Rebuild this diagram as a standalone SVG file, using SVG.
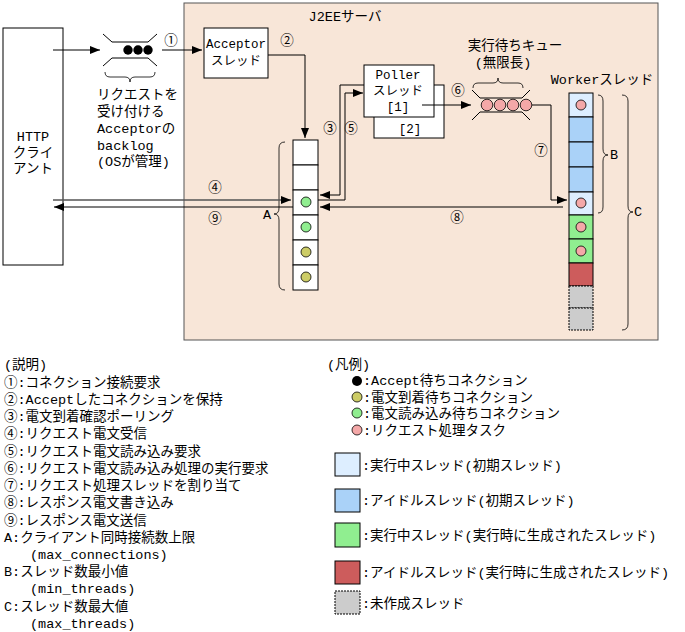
<svg xmlns="http://www.w3.org/2000/svg" width="685" height="632" viewBox="0 0 685 632">
<style>
text{font-family:"Liberation Mono","Noto Sans CJK JP",monospace;font-size:13.5px;fill:#000}
.c{text-anchor:middle}
.s{font-size:12.5px}
.box{fill:#fff;stroke:#000;stroke-width:1}
.ln{fill:none;stroke:#000;stroke-width:1}
.gl{fill:none;stroke:#555;stroke-width:1.3}
.br{fill:none;stroke:#000;stroke-width:0.8}
.g{fill:#90ee90;stroke:#000;stroke-width:0.8}
.y{fill:#cccc66;stroke:#000;stroke-width:0.8}
.p{fill:#f4a8a8;stroke:#000;stroke-width:0.8}
.k{fill:#000}
</style>
<defs>
<marker id="ah" markerWidth="10" markerHeight="8" refX="10" refY="4" orient="auto" markerUnits="userSpaceOnUse"><path d="M0,0L10,4L0,8z" fill="#000"/></marker>
</defs>
<g id="server"><rect x="184" y="3" width="474" height="337" fill="#f8e6d8" stroke="#555"/><text x="345" y="21" class="c">J2EEサーバ</text></g>
<g id="client"><rect class="box" x="3" y="28" width="60" height="237"/><text x="33" y="141" class="c">HTTP</text><text x="33" y="157" class="c">クライ</text><text x="33" y="173" class="c">アント</text></g>
<g id="backlog">
<path class="ln" d="M103,34L112,42H148L157,34M103,66L112,58H148L157,66"/>
<circle class="k" cx="128" cy="50" r="4.7"/><circle class="k" cx="138" cy="50" r="4.7"/><circle class="k" cx="148" cy="50" r="4.7"/>
<path class="br" d="M105,72q0,5 5,5h15q5,0 5,5q0,-5 5,-5h15q5,0 5,-5"/>
<text x="97" y="99">リクエストを</text><text x="97" y="116">受け付ける</text><text x="97" y="133">Acceptorの</text><text x="97" y="150">backlog</text><text x="97" y="166">(OSが管理)</text>
</g>
<g id="acceptor"><rect class="box" x="204" y="28" width="64" height="50"/><text x="236" y="48" class="c s">Acceptor</text><text x="236" y="65" class="c s">スレッド</text></g>
<g id="connections">
<rect class="box" x="293" y="140" width="25" height="25"/><rect class="box" x="293" y="165" width="25" height="25"/><rect class="box" x="293" y="190" width="25" height="25"/><rect class="box" x="293" y="215" width="25" height="25"/><rect class="box" x="293" y="240" width="25" height="25"/><rect class="box" x="293" y="265" width="25" height="25"/>
<circle class="g" cx="306" cy="202" r="5"/><circle class="g" cx="306" cy="227" r="5"/><circle class="y" cx="306" cy="252" r="5"/><circle class="y" cx="306" cy="277" r="5"/>
<path class="br" d="M285,142q-6,0 -6,6v60q0,6 -5,6q5,0 5,6v64q0,6 6,6"/><text x="263" y="219">A</text>
</g>
<g id="poller"><rect class="box" x="374" y="85" width="70" height="53"/><rect class="box" x="364" y="65" width="70" height="52"/>
<text x="398" y="79" class="c s">Poller</text><text x="398" y="95" class="c s">スレッド</text><text x="398" y="111" class="c s">[1]</text><text x="410" y="133" class="c s">[2]</text></g>
<g id="queue"><text x="515" y="50" class="c">実行待ちキュー</text><text x="503" y="67" class="c">(無限長)</text>
<path class="br" d="M473,88q0,-5 5,-5h15q5,0 5,-5q0,5 5,5h15q5,0 5,5"/>
<path class="ln" d="M472,90L480,98H522L530,90M472,120L480,112H522L530,120"/>
<circle class="p" cx="487" cy="105" r="5.8"/><circle class="p" cx="500" cy="105" r="5.8"/><circle class="p" cx="513" cy="105" r="5.8"/><circle class="p" cx="526" cy="105" r="5.8"/></g>
<g id="worker"><text x="602" y="84" class="c">Workerスレッド</text>
<rect x="569" y="93" width="24" height="24" fill="#ddeeff" stroke="#000"/><rect x="569" y="117" width="24" height="25" fill="#aad2f8" stroke="#000"/><rect x="569" y="142" width="24" height="25" fill="#aad2f8" stroke="#000"/><rect x="569" y="167" width="24" height="25" fill="#aad2f8" stroke="#000"/><rect x="569" y="192" width="24" height="23" fill="#ddeeff" stroke="#000"/><rect x="569" y="215" width="24" height="24" fill="#90ee90" stroke="#000"/><rect x="569" y="239" width="24" height="24" fill="#90ee90" stroke="#000"/><rect x="569" y="263" width="24" height="23" fill="#cd5c5c" stroke="#000"/><rect x="569" y="286" width="24" height="22" fill="#cccccc" stroke="#000" stroke-dasharray="2,1"/><rect x="569" y="308" width="24" height="22" fill="#cccccc" stroke="#000" stroke-dasharray="2,1"/>
<circle class="p" cx="581" cy="105" r="5"/><circle class="p" cx="581" cy="203" r="5"/><circle class="p" cx="581" cy="227" r="5"/><circle class="p" cx="581" cy="251" r="5"/>
<path class="br" d="M598,95q5,0 5,6v48q0,6 5,6q-5,0 -5,6v46q0,6 -5,6"/><text x="610" y="159">B</text>
<path class="br" d="M622,95q6,0 6,6v105q0,6 5,6q-5,0 -5,6v106q0,6 -6,6"/><text x="634" y="216">C</text>
</g>
<g id="connectors">
<path class="ln" d="M53,50H100" marker-end="url(#ah)"/>
<path class="ln" d="M162,50H202" marker-end="url(#ah)"/>
<path class="ln" d="M268,55H305V138" marker-end="url(#ah)"/>
<path class="gl" d="M53,200H291" marker-end="url(#ah)"/>
<path class="ln" d="M563,207H320" marker-end="url(#ah)"/>
<path class="ln" d="M293,207H54" marker-end="url(#ah)"/>
<path class="ln" d="M364,85H340V195H320" marker-end="url(#ah)"/>
<path class="ln" d="M318,200H345V93H363" marker-end="url(#ah)"/>
<path class="ln" d="M422,105H471" marker-end="url(#ah)"/>
<path class="ln" d="M532,105H551V200H567" marker-end="url(#ah)"/>
<text x="171" y="45" class="c">①</text><text x="287" y="45" class="c">②</text><text x="330" y="133" class="c">③</text><text x="215" y="192" class="c">④</text><text x="351" y="133" class="c">⑤</text><text x="458" y="95" class="c">⑥</text><text x="541" y="155" class="c">⑦</text><text x="457" y="222" class="c">⑧</text><text x="215" y="223" class="c">⑨</text>
</g>
<g id="explain">
<text x="4" y="369">(説明)</text><text x="4" y="387">①:コネクション接続要求</text><text x="4" y="404">②:Acceptしたコネクションを保持</text><text x="4" y="421">③:電文到着確認ポーリング</text><text x="4" y="438">④:リクエスト電文受信</text><text x="4" y="456">⑤:リクエスト電文読み込み要求</text><text x="4" y="473">⑥:リクエスト電文読み込み処理の実行要求</text><text x="4" y="490">⑦:リクエスト処理スレッドを割り当て</text><text x="4" y="507">⑧:レスポンス電文書き込み</text><text x="4" y="525">⑨:レスポンス電文送信</text><text x="4" y="542">A:クライアント同時接続数上限</text><text x="30" y="559">(max_connections)</text><text x="4" y="576">B:スレッド数最小値</text><text x="30" y="593">(min_threads)</text><text x="4" y="611">C:スレッド数最大値</text><text x="30" y="628">(max_threads)</text>
</g>
<g id="legend">
<text x="327" y="369">(凡例)</text>
<circle class="k" cx="357" cy="381" r="5"/><text x="363" y="385">:Accept待ちコネクション</text>
<circle class="y" cx="357" cy="397" r="5"/><text x="363" y="402">:電文到着待ちコネクション</text>
<circle class="g" cx="357" cy="413" r="5"/><text x="363" y="418">:電文読み込み待ちコネクション</text>
<circle class="p" cx="357" cy="430" r="5"/><text x="363" y="435">:リクエスト処理タスク</text>
<rect x="335" y="453" width="25" height="23" fill="#ddeeff" stroke="#000"/><text x="362" y="470">:実行中スレッド(初期スレッド)</text>
<rect x="335" y="489" width="25" height="23" fill="#aad2f8" stroke="#000"/><text x="362" y="505">:アイドルスレッド(初期スレッド)</text>
<rect x="335" y="523" width="25" height="24" fill="#90ee90" stroke="#000"/><text x="362" y="540">:実行中スレッド(実行時に生成されたスレッド)</text>
<rect x="335" y="561" width="25" height="23" fill="#cd5c5c" stroke="#000"/><text x="362" y="577">:アイドルスレッド(実行時に生成されたスレッド)</text>
<rect x="335" y="591" width="25" height="23" fill="#cccccc" stroke="#000" stroke-dasharray="2,1"/><text x="362" y="608">:未作成スレッド</text>
</g>
</svg>
